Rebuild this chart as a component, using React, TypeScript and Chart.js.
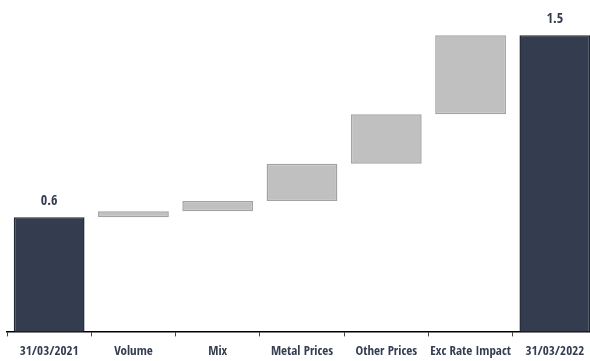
import { useEffect, useRef } from "react";
import { Chart, registerables } from "chart.js";

Chart.register(...registerables);

// Bridge categories, left total to right total
const categories = [
  "31/03/2021",
  "Volume",
  "Mix",
  "Metal Prices",
  "Other Prices",
  "Exc Rate Impact",
  "31/03/2022",
];
const openingTotal = 0.6;
// movement contributed by each driver between the two totals
const driverSteps = [0.03, 0.05, 0.185, 0.245, 0.39];
const closingTotal = 1.5;

const TOTAL_FILL = "#333d4f";
const TOTAL_BORDER = "#1f2633";
const STEP_FILL = "#c0c0c0";
const STEP_BORDER = "#a3a3a3";
const TEXT_COLOR = "#333d4f";
const FONT_FAMILY = "'Open Sans Condensed', 'Roboto Condensed', sans-serif";

function buildBars() {
  const ranges: [number, number][] = [[0, openingTotal]];
  let level = openingTotal;
  for (const step of driverSteps) {
    ranges.push([level, level + step]);
    level += step;
  }
  ranges.push([0, closingTotal]);
  return ranges;
}

// writes the value above the two total bars
const totalLabelPlugin = {
  id: "totalLabels",
  afterDatasetsDraw(chart: Chart) {
    const { ctx } = chart;
    const meta = chart.getDatasetMeta(0);
    const totals: [number, number][] = [
      [0, openingTotal],
      [categories.length - 1, closingTotal],
    ];
    ctx.save();
    ctx.font = `bold 14px ${FONT_FAMILY}`;
    ctx.fillStyle = TEXT_COLOR;
    ctx.textAlign = "center";
    ctx.textBaseline = "alphabetic";
    for (const [index, value] of totals) {
      const bar = meta.data[index] as any;
      ctx.fillText(value.toFixed(1), bar.x, bar.y - 12);
    }
    ctx.restore();
  },
};

export default function App() {
  const canvasRef = useRef<HTMLCanvasElement | null>(null);

  useEffect(() => {
    const canvas = canvasRef.current;
    if (!canvas) return;
    const last = categories.length - 1;
    let chart: Chart | null = null;
    let cancelled = false;
    const build = () => {
      if (cancelled) return;
      chart = new Chart(canvas, {
        type: "bar",
        data: {
          labels: categories,
          datasets: [
            {
              data: buildBars() as any,
              backgroundColor: categories.map((_, i) =>
                i === 0 || i === last ? TOTAL_FILL : STEP_FILL
              ),
              borderColor: categories.map((_, i) =>
                i === 0 || i === last ? TOTAL_BORDER : STEP_BORDER
              ),
              borderWidth: 1.5,
              borderSkipped: false,
              categoryPercentage: 1,
              barPercentage: 0.84,
            },
          ],
        },
        options: {
          responsive: false,
          animation: false,
          devicePixelRatio: 1,
          layout: { padding: { left: 7, right: 0, top: 0, bottom: 0 } },
          plugins: {
            legend: { display: false },
            tooltip: { enabled: false },
          },
          scales: {
            x: {
              grid: {
                display: true,
                drawOnChartArea: false,
                drawTicks: true,
                tickLength: 5,
                offset: true,
                color: "#444",
                lineWidth: 1,
              },
              border: { display: true, color: "#000", width: 1.5 },
              ticks: {
                color: TEXT_COLOR,
                padding: 7,
                maxRotation: 0,
                autoSkip: false,
                font: { family: FONT_FAMILY, size: 13, weight: "bold" },
              },
            },
            y: {
              display: false,
              min: 0.035,
              max: 1.675,
            },
          },
        },
        plugins: [totalLabelPlugin],
      });
    };
    const fonts = (document as any).fonts;
    if (fonts && fonts.load) {
      fonts.load(`bold 14px 'Open Sans Condensed'`).then(build, build);
    } else {
      build();
    }
    return () => {
      cancelled = true;
      if (chart) chart.destroy();
    };
  }, []);

  return (
    <div
      style={{
        position: "fixed",
        left: 0,
        top: 0,
        width: 590,
        height: 361,
        overflow: "hidden",
        background: "#fff",
      }}
    >
      <canvas
        ref={canvasRef}
        width={597}
        height={366}
        style={{ display: "block", width: 597, height: 366 }}
      />
    </div>
  );
}
